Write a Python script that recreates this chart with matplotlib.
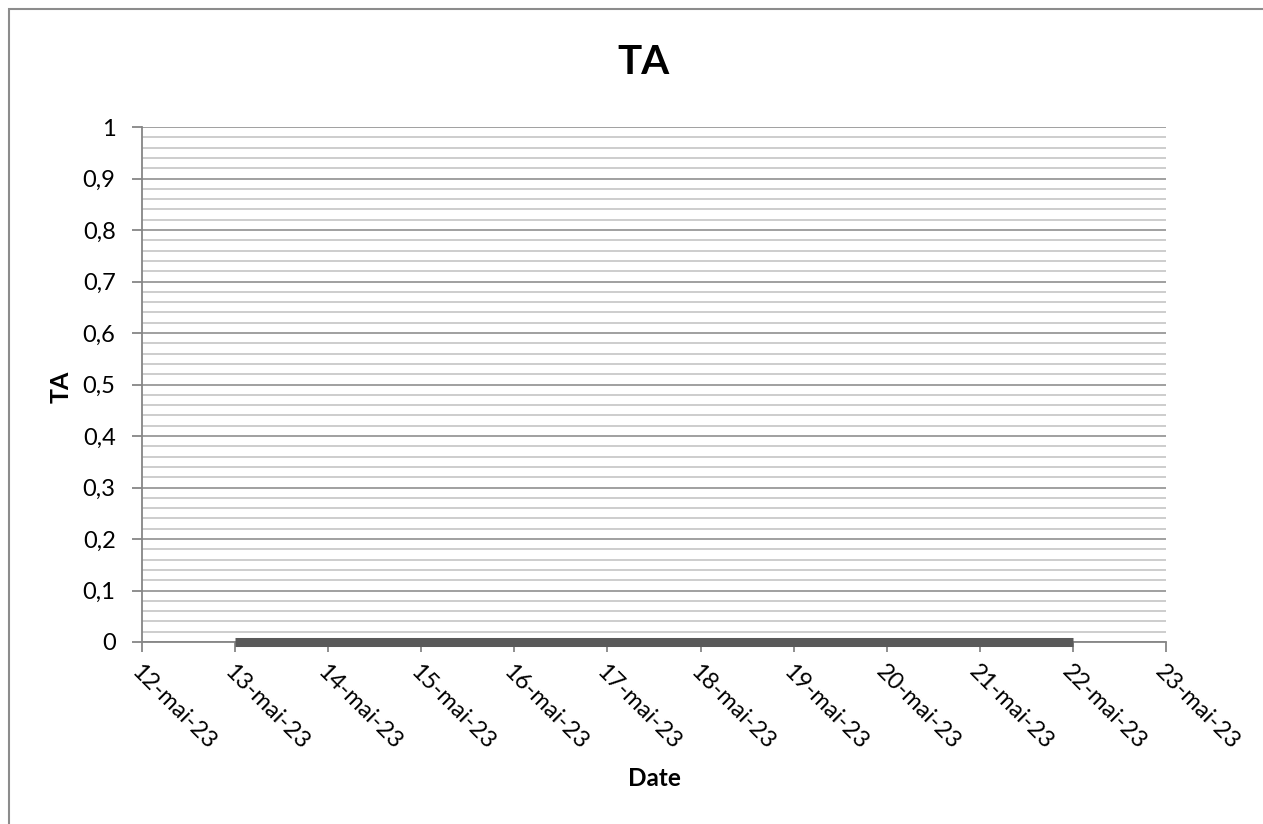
import numpy as np
import datetime as dt
import matplotlib
matplotlib.use('Agg')
from matplotlib import pyplot as plt
from matplotlib.patches import Rectangle

# data
dates = [dt.date(2023, 5, d) for d in range(13, 23)]
ta_values = [0, 0, 0, 0, 0, 0, 0, 0, 0, 0]
tick_dates = [dt.date(2023, 5, d) for d in range(12, 24)]
tick_labels = ['%d-mai-23' % d.day for d in tick_dates]
y_ticks = [0, 0.1, 0.2, 0.3, 0.4, 0.5, 0.6, 0.7, 0.8, 0.9, 1]
y_labels = ['0', '0,1', '0,2', '0,3', '0,4', '0,5', '0,6', '0,7', '0,8', '0,9', '1']

plt.rcParams['font.family'] = ['Lato', 'DejaVu Sans']

W, H = 1263, 824
fig = plt.figure(figsize=(W/100, H/100), dpi=100)
# outer chart border
fig.patches.append(Rectangle((9/W, -0.05), 1.2, 1.05 - 9/H, transform=fig.transFigure,
                             fill=False, edgecolor='#8c8c8c', linewidth=1.5))

ax = fig.add_axes([142/W, 1 - 642/H, (1166-142)/W, (642-127)/H])

ax.plot(dates, ta_values, color='#595959', linewidth=6.5, solid_capstyle='butt', zorder=5, clip_on=False)

ax.set_xlim(tick_dates[0], tick_dates[-1])
ax.set_ylim(0, 1)
ax.set_xticks(tick_dates)
ax.set_xticklabels(tick_labels, rotation=-45, ha='left', va='top', rotation_mode='anchor', fontsize=17)
ax.set_yticks(y_ticks)
ax.set_yticklabels(y_labels, fontsize=17)
ax.set_yticks(np.arange(0, 1.001, 0.02), minor=True)

ax.grid(which='major', axis='y', color='#868686', linewidth=1.1)
ax.grid(which='minor', axis='y', color='#c0c0c0', linewidth=1.1)
ax.set_axisbelow(True)

for s in ['top', 'right']:
    ax.spines[s].set_visible(False)
for s in ['left', 'bottom']:
    ax.spines[s].set_color('#868686')
    ax.spines[s].set_linewidth(1.3)

ax.tick_params(axis='y', which='major', length=7, color='#868686', width=1.3, pad=12)
ax.tick_params(axis='y', which='minor', length=0)
ax.tick_params(axis='x', which='major', length=7, color='#868686', width=1.3, pad=7)

fig.text(644/W, 1 - 62/H, 'TA', fontsize=29, fontweight='bold', ha='center', va='center')
fig.text(654/W, 1 - 779/H, 'Date', fontsize=17.5, fontweight='bold', ha='center', va='center')
fig.text(61/W, 1 - 387/H, 'TA', fontsize=18, fontweight='bold', ha='center', va='center', rotation=90)

fig.savefig('out.png', dpi=100)
